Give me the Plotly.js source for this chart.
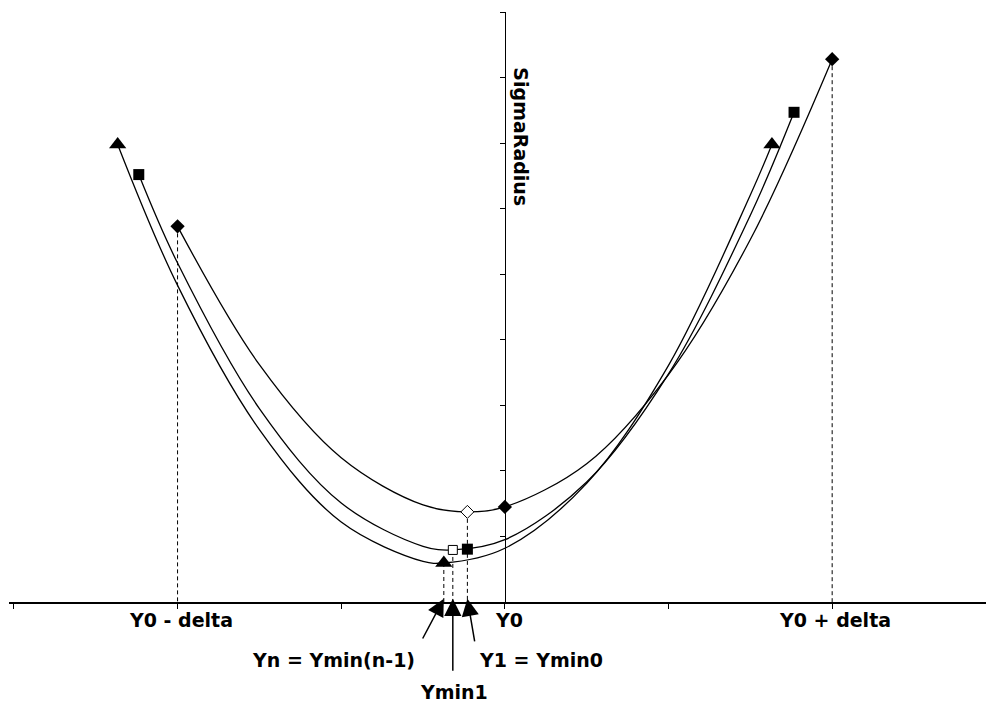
<!DOCTYPE html>
<html>
<head>
<meta charset="utf-8">
<script src="https://cdn.plot.ly/plotly-3.0.1.min.js"></script>
<style>html,body{margin:0;padding:0;background:#fff;}#chart{width:986px;height:708px;}</style>
</head>
<body>
<div id="chart"></div>
<script>
// Key positions on the horizontal axis (Y0 = 0, delta = 2)
const Y0 = 0;
const delta = 2;
const Ymin0 = -0.229;   // = Y1
const Ymin1 = -0.318;
const Yn = -0.373;      // = Ymin(n-1)

// Curve 1 (diamonds): fit around Y0
const c1X = [-2.0, -1.5, -1.0, -0.5, -0.229, 0.0, 0.5, 1.0, 1.5, 2.0];
const c1Y = [5.73, 3.62, 2.20, 1.48, 1.375, 1.45, 2.11, 3.47, 5.53, 8.28];
// Curve 2 (squares): fit around Y1 = Ymin0
const c2X = [-2.237, -2.0, -1.5, -1.0, -0.5, -0.318, 0.0, 0.5, 1.0, 1.5, 1.767];
const c2Y = [6.52, 5.17, 2.95, 1.51, 0.85, 0.794, 0.95, 1.83, 3.48, 5.90, 7.47];
// Curve 3 (triangles): fit around Yn
const c3X = [-2.366, -2.0, -1.5, -1.0, -0.5, -0.373, 0.0, 0.5, 1.0, 1.5, 1.632];
const c3Y = [6.98, 4.83, 2.63, 1.22, 0.62, 0.595, 0.82, 1.81, 3.61, 6.21, 6.98];

// Filled markers
const diamondX = [-2.0, 0.0, 2.0];
const diamondY = [5.73, 1.45, 8.28];
const squareX = [-2.237, -0.229, 1.767];
const squareY = [6.52, 0.806, 7.47];
const triangleX = [-2.366, -0.373, 1.632];
const triangleY = [6.98, 0.595, 6.98];
// Open markers at minima
const openDiamondX = [Ymin0];
const openDiamondY = [1.375];
const openSquareX = [Ymin1];
const openSquareY = [0.794];

// Dashed drop lines (x, top y)
const dropX = [-2.0, 2.0, Ymin0, Ymin1, Yn];
const dropY = [5.73, 8.28, 1.375, 0.794, 0.595];

const axisLabels = ['Y0 - delta', 'Y0', 'Y0 + delta'];
const axisLabelX = [Y0 - delta + 0.02, Y0 + 0.025, Y0 + delta + 0.02];
const yTitle = 'SigmaRadius';

const traces = [];
// drop lines
for (let i = 0; i < dropX.length; i++) {
  traces.push({x: [dropX[i], dropX[i]], y: [dropY[i], 0], mode: 'lines', type: 'scatter',
    line: {color: '#000', width: 1, dash: '4px,3px'}, hoverinfo: 'skip'});
}
const curveLine = {color: '#000', width: 1.3, shape: 'spline', smoothing: 1};
traces.push({x: c1X, y: c1Y, mode: 'lines', type: 'scatter', line: curveLine});
traces.push({x: c2X, y: c2Y, mode: 'lines', type: 'scatter', line: curveLine});
traces.push({x: c3X, y: c3Y, mode: 'lines', type: 'scatter', line: curveLine});

traces.push({x: diamondX, y: diamondY, mode: 'markers', type: 'scatter',
  marker: {symbol: 'diamond', size: 11, color: '#000'}});
traces.push({x: squareX, y: squareY, mode: 'markers', type: 'scatter',
  marker: {symbol: 'square', size: 11, color: '#000'}});
traces.push({x: triangleX, y: triangleY, mode: 'markers', type: 'scatter',
  marker: {symbol: 'triangle-up', size: 15, color: '#000'}});
traces.push({x: openDiamondX, y: openDiamondY, mode: 'markers', type: 'scatter',
  marker: {symbol: 'diamond', size: 10, color: '#fff', line: {color: '#000', width: 1}}});
traces.push({x: openSquareX, y: openSquareY, mode: 'markers', type: 'scatter',
  marker: {symbol: 'square', size: 9, color: '#fff', line: {color: '#000', width: 1}}});

const font = {family: 'DejaVu Sans, Arial, sans-serif', size: 19, color: '#000'};
const annotations = [];
for (let i = 0; i < axisLabels.length; i++) {
  annotations.push({x: axisLabelX[i], y: -0.031, xref: 'x', yref: 'paper', text: '<b>' + axisLabels[i] + '</b>',
    showarrow: false, font: font, xanchor: 'center', yanchor: 'middle'});
}
annotations.push({x: -1.045, y: -0.098, xref: 'x', yref: 'paper', text: '<b>Yn = Ymin(n-1)</b>',
  showarrow: false, font: font, xanchor: 'center', yanchor: 'middle'});
annotations.push({x: 0.22, y: -0.098, xref: 'x', yref: 'paper', text: '<b>Y1 = Ymin0</b>',
  showarrow: false, font: font, xanchor: 'center', yanchor: 'middle'});
annotations.push({x: -0.31, y: -0.1525, xref: 'x', yref: 'paper', text: '<b>Ymin1</b>',
  showarrow: false, font: font, xanchor: 'center', yanchor: 'middle'});
// arrows
const arrowStyle = {showarrow: true, arrowhead: 2, arrowsize: 2.3, arrowwidth: 1.5, arrowcolor: '#000',
  standoff: 0, startstandoff: 0, xref: 'x', yref: 'y', axref: 'x', ayref: 'y', text: ''};
annotations.push(Object.assign({}, arrowStyle, {x: Yn, y: 0.05, ax: -0.507, ay: -0.58}));
annotations.push(Object.assign({}, arrowStyle, {x: Ymin1, y: 0.05, ax: Ymin1, ay: -1.07}));
annotations.push(Object.assign({}, arrowStyle, {x: Ymin0, y: 0.05, ax: -0.183, ay: -0.625}));
// y title
annotations.push({x: 0.1, y: 7.1, xref: 'x', yref: 'y', text: '<b>' + yTitle + '</b>', textangle: 90,
  showarrow: false, font: font, xanchor: 'center', yanchor: 'middle'});

const layout = {
  width: 986, height: 708,
  margin: {l: 9, r: 0, t: 12, b: 106},
  paper_bgcolor: '#fff', plot_bgcolor: '#fff',
  showlegend: false,
  xaxis: {range: [-3.03, 2.94], showgrid: false, zeroline: false, showline: true, linecolor: '#000', linewidth: 1.5,
    ticks: 'outside', ticklen: 5, tickwidth: 1, tickcolor: '#000', dtick: 1, tick0: 0, showticklabels: false},
  yaxis: {range: [0, 9], showgrid: false, zeroline: false, showline: true, linecolor: '#000', linewidth: 1.5,
    ticks: 'outside', ticklen: 5, tickwidth: 1, tickcolor: '#000', dtick: 1, tick0: 0, showticklabels: false,
    anchor: 'free', position: 3.03 / 5.97},
  annotations: annotations
};
Plotly.newPlot('chart', traces, layout, {displayModeBar: false, staticPlot: true});
</script>
</body>
</html>
